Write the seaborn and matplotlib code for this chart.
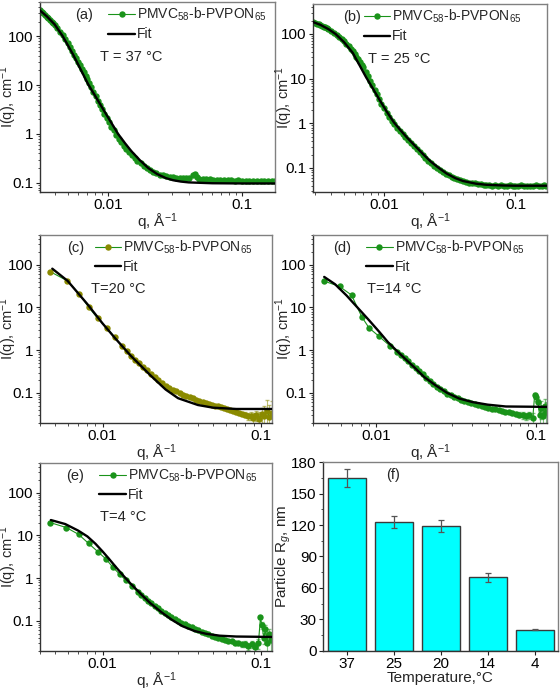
import numpy as np
import pandas as pd
import matplotlib
matplotlib.use("Agg")
import matplotlib.pyplot as plt
import matplotlib.ticker as mticker
import seaborn as sns

# ---- panel (a) T = 37 C ----
q_a = [0.0031, 0.0032, 0.0033, 0.0034, 0.0035, 0.0036, 0.0037, 0.0038, 0.0039, 0.0040,
       0.0042, 0.0044, 0.0046, 0.0048, 0.0050, 0.0052, 0.0054, 0.0056, 0.0058, 0.0060,
       0.0062, 0.0064, 0.0066, 0.0068, 0.0070, 0.0072, 0.0075, 0.0078, 0.0081, 0.0084,
       0.0087, 0.0090, 0.0094, 0.0098, 0.0102, 0.0106, 0.0110, 0.0115, 0.0120, 0.0125,
       0.0131, 0.0137, 0.0143, 0.0150, 0.0158, 0.0166, 0.0175, 0.0185, 0.0195, 0.0206,
       0.0218, 0.0230, 0.0243, 0.0257, 0.0272, 0.0288, 0.0305, 0.0323, 0.0342, 0.0362,
       0.0383, 0.0405, 0.0428, 0.0445, 0.0460, 0.0480, 0.0510, 0.0540, 0.0575, 0.0610,
       0.0650, 0.0690, 0.0735, 0.0780, 0.0830, 0.0885, 0.0940, 0.1000, 0.1065, 0.1135,
       0.1210, 0.1290, 0.1375, 0.1465, 0.1560, 0.1660, 0.1760]
i_a = [345, 318, 292, 270, 250, 232, 214, 198, 184, 170,
       146, 124, 104, 87, 72, 60, 50, 42, 35.5, 30,
       25.5, 21.5, 18.3, 15.6, 13.2, 11.3, 9.0, 7.3, 5.9, 4.8,
       3.95, 3.3, 2.6, 2.1, 1.72, 1.42, 1.18, 0.96, 0.8, 0.68,
       0.57, 0.49, 0.43, 0.37, 0.32, 0.285, 0.255, 0.225, 0.2, 0.182,
       0.168, 0.157, 0.148, 0.142, 0.137, 0.133, 0.13, 0.128, 0.126, 0.127,
       0.125, 0.128, 0.142, 0.152, 0.132, 0.122, 0.12, 0.118, 0.117, 0.116,
       0.114, 0.115, 0.113, 0.112, 0.113, 0.111, 0.112, 0.11, 0.111, 0.109,
       0.11, 0.108, 0.109, 0.107, 0.108, 0.107, 0.108]
fq_a = [0.0031, 0.0035, 0.0040, 0.0046, 0.0055, 0.0065, 0.0071, 0.0080, 0.0090, 0.0100,
        0.0110, 0.0119, 0.0135, 0.0150, 0.0173, 0.0200, 0.0232, 0.0270, 0.0306, 0.0350,
        0.0400, 0.0600, 0.1000, 0.1800]
fi_a = [340, 255, 175, 100, 42, 17, 10.5, 6.1, 3.57, 2.2,
        1.43, 1.0, 0.63, 0.44, 0.29, 0.2, 0.152, 0.125, 0.113, 0.106,
        0.102, 0.098, 0.097, 0.097]

# ---- panel (b) T = 25 C ----
q_b = [0.0029, 0.0030, 0.0031, 0.0032, 0.0033, 0.0034, 0.0035, 0.0036, 0.0037, 0.0038,
       0.0040, 0.0042, 0.0044, 0.0046, 0.0048, 0.0050, 0.0052, 0.0054, 0.0056, 0.0058,
       0.0060, 0.0062, 0.0064, 0.0066, 0.0068, 0.0070, 0.0073, 0.0076, 0.0079, 0.0082,
       0.0085, 0.0088, 0.0092, 0.0096, 0.0100, 0.0105, 0.0110, 0.0115, 0.0120, 0.0126,
       0.0132, 0.0139, 0.0146, 0.0153, 0.0161, 0.0169, 0.0178, 0.0187, 0.0197, 0.0207,
       0.0218, 0.0229, 0.0241, 0.0254, 0.0267, 0.0281, 0.0296, 0.0311, 0.0327, 0.0344,
       0.0362, 0.0381, 0.0401, 0.0422, 0.0444, 0.0467, 0.0491, 0.0517, 0.0544, 0.0572,
       0.0602, 0.0633, 0.0666, 0.0701, 0.0737, 0.0776, 0.0816, 0.0859, 0.0903, 0.0950,
       0.1000, 0.1052, 0.1107, 0.1164, 0.1225, 0.1289, 0.1356, 0.1427, 0.1501, 0.1579,
       0.1661, 0.1720]
i_b = [182, 176, 170, 164, 158, 152, 146, 140, 134, 128,
       116, 106, 96, 87, 78, 69, 61, 54, 47, 41,
       36, 31, 27, 23.5, 20.5, 17.8, 14.2, 11.2, 8.9, 7.1,
       5.7, 4.6, 3.5, 2.75, 2.2, 1.72, 1.38, 1.12, 0.94, 0.8,
       0.68, 0.57, 0.5, 0.43, 0.36, 0.31, 0.265, 0.228, 0.196, 0.17,
       0.146, 0.128, 0.113, 0.101, 0.091, 0.082, 0.075, 0.069, 0.064, 0.06,
       0.056, 0.053, 0.051, 0.049, 0.047, 0.046, 0.045, 0.044, 0.043, 0.042,
       0.041, 0.041, 0.04, 0.041, 0.039, 0.041, 0.039, 0.04, 0.041, 0.039,
       0.04, 0.039, 0.041, 0.039, 0.04, 0.04, 0.039, 0.041, 0.04, 0.04,
       0.041, 0.04]
fq_b = [0.0029, 0.0033, 0.0038, 0.0043, 0.0050, 0.0058, 0.0066, 0.0073, 0.0082, 0.0092,
        0.0105, 0.0119, 0.0135, 0.0150, 0.0175, 0.0200, 0.0228, 0.0257, 0.0300, 0.0350,
        0.0400, 0.0500, 0.0600, 0.0800, 0.1000, 0.1750]
fi_b = [185, 160, 128, 100, 65, 38, 19, 11, 6.2, 3.5,
        1.85, 1.06, 0.68, 0.48, 0.3, 0.2, 0.138, 0.104, 0.075, 0.059,
        0.051, 0.0445, 0.042, 0.0405, 0.04, 0.04]

# ---- panel (c) T = 20 C ----
q_c = [0.00467, 0.00596, 0.00708, 0.00818, 0.00931, 0.0106, 0.0119, 0.0133, 0.0143, 0.0152,
       0.0161, 0.0170, 0.0180, 0.0191, 0.0202, 0.0213, 0.0225, 0.0238, 0.0251, 0.0264,
       0.0278, 0.0292, 0.0307, 0.0322, 0.0338, 0.0355, 0.0372, 0.0390, 0.0409, 0.0428,
       0.0448, 0.0469, 0.0491, 0.0514, 0.0538, 0.0562, 0.0588, 0.0614, 0.0641, 0.0670,
       0.0699, 0.0730, 0.0761, 0.0794, 0.0828, 0.0862, 0.0898, 0.0935, 0.0973, 0.1012,
       0.1052, 0.1093, 0.1135, 0.1178]
i_c = [68.7, 42.4, 21.2, 10.0, 5.55, 3.3, 2.0, 1.24, 0.95, 0.75,
       0.6, 0.49, 0.41, 0.34, 0.28, 0.235, 0.2, 0.17, 0.148, 0.132,
       0.118, 0.108, 0.099, 0.091, 0.085, 0.079, 0.074, 0.069, 0.065, 0.061,
       0.058, 0.055, 0.052, 0.05, 0.048, 0.046, 0.044, 0.042, 0.04, 0.037,
       0.035, 0.033, 0.032, 0.031, 0.028, 0.029, 0.026, 0.03, 0.025, 0.032,
       0.028, 0.038, 0.027, 0.033]
e_c = [0, 0, 0, 0, 0, 0, 0, 0, 0, 0,
       0, 0, 0, 0, 0, 0, 0, 0, 0, 0,
       0, 0, 0, 0, 0, 0, 0, 0, 0, 0,
       0, 0, 0, 0, 0, 0, 0, 0, 0, 0.002,
       0.003, 0.003, 0.004, 0.004, 0.005, 0.006, 0.007, 0.008, 0.01, 0.012,
       0.02, 0.03, 0.025, 0.03]
fq_c = [0.0048, 0.0060, 0.0080, 0.0100, 0.0120, 0.0150, 0.0200, 0.0250, 0.0300, 0.0400,
        0.0500, 0.0700, 0.1200]
fi_c = [81, 42, 12, 4.2, 1.9, 0.75, 0.26, 0.12, 0.075, 0.052,
        0.045, 0.042, 0.042]

# ---- panel (d) T = 14 C ----
q_d = [0.00466, 0.00587, 0.00698, 0.0081, 0.0090, 0.0104, 0.0121, 0.0135, 0.0143, 0.0151,
       0.0159, 0.0167, 0.0176, 0.0185, 0.0195, 0.0205, 0.0216, 0.0227, 0.0239, 0.0251,
       0.0264, 0.0278, 0.0292, 0.0307, 0.0323, 0.0340, 0.0357, 0.0375, 0.0394, 0.0414,
       0.0435, 0.0457, 0.0480, 0.0504, 0.0530, 0.0557, 0.0585, 0.0615, 0.0646, 0.0679,
       0.0713, 0.0749, 0.0787, 0.0827, 0.0869, 0.0913, 0.0959, 0.0985, 0.1007, 0.1035,
       0.1058, 0.1087, 0.1111, 0.1142, 0.1167]
i_d = [42, 31, 19.5, 6.0, 3.3, 2.1, 1.28, 0.9, 0.78, 0.66,
       0.55, 0.46, 0.38, 0.32, 0.27, 0.225, 0.19, 0.163, 0.14, 0.122,
       0.108, 0.096, 0.088, 0.08, 0.074, 0.069, 0.065, 0.061, 0.058, 0.055,
       0.052, 0.05, 0.047, 0.045, 0.043, 0.041, 0.039, 0.038, 0.036, 0.035,
       0.034, 0.032, 0.031, 0.03, 0.028, 0.03, 0.026, 0.088, 0.08, 0.06,
       0.03, 0.045, 0.028, 0.05, 0.035]
e_d = [0, 0, 0, 0, 0, 0, 0, 0, 0, 0,
       0, 0, 0, 0, 0, 0, 0, 0, 0, 0,
       0, 0, 0, 0, 0, 0, 0, 0, 0, 0,
       0, 0, 0, 0, 0, 0, 0, 0, 0, 0.002,
       0.003, 0.003, 0.004, 0.005, 0.005, 0.006, 0.008, 0.01, 0.015, 0.012,
       0.012, 0.02, 0.015, 0.02, 0.025]
fq_d = [0.0047, 0.0055, 0.0065, 0.0076, 0.0090, 0.0105, 0.0118, 0.0133, 0.0150, 0.0175,
        0.0200, 0.0235, 0.0278, 0.0330, 0.0400, 0.0500, 0.0650, 0.1200]
fi_d = [52, 35, 19, 10, 5.0, 2.6, 1.55, 1.0, 0.65, 0.38,
        0.233, 0.151, 0.1, 0.074, 0.061, 0.053, 0.048, 0.047]

# ---- panel (e) T = 4 C ----
q_e = [0.00467, 0.0059, 0.00704, 0.00815, 0.0093, 0.0105, 0.0116, 0.0128, 0.0140, 0.0153,
       0.0167, 0.0175, 0.0184, 0.0193, 0.0203, 0.0213, 0.0224, 0.0235, 0.0247, 0.0259,
       0.0272, 0.0286, 0.0300, 0.0315, 0.0331, 0.0348, 0.0365, 0.0383, 0.0402, 0.0422,
       0.0443, 0.0465, 0.0488, 0.0513, 0.0538, 0.0565, 0.0593, 0.0623, 0.0654, 0.0687,
       0.0721, 0.0757, 0.0795, 0.0835, 0.0877, 0.0920, 0.0966, 0.0995, 0.1015, 0.1045,
       0.1070, 0.1100, 0.1125, 0.1160]
i_e = [20, 15.3, 10.6, 6.5, 4.2, 2.8, 1.8, 1.24, 0.89, 0.65,
       0.47, 0.41, 0.35, 0.3, 0.26, 0.225, 0.195, 0.17, 0.15, 0.135,
       0.12, 0.108, 0.098, 0.09, 0.083, 0.076, 0.07, 0.065, 0.06, 0.056,
       0.052, 0.048, 0.045, 0.042, 0.04, 0.038, 0.036, 0.034, 0.033, 0.03,
       0.031, 0.028, 0.029, 0.026, 0.028, 0.025, 0.03, 0.12, 0.08, 0.04,
       0.065, 0.03, 0.05, 0.035]
e_e = [0, 0, 0, 0, 0, 0, 0, 0, 0, 0,
       0, 0, 0, 0, 0, 0, 0, 0, 0, 0,
       0, 0, 0, 0, 0, 0, 0, 0, 0, 0,
       0, 0, 0, 0, 0, 0, 0, 0, 0, 0.002,
       0.003, 0.003, 0.004, 0.005, 0.005, 0.006, 0.008, 0.01, 0.015, 0.012,
       0.015, 0.02, 0.015, 0.02]
fq_e = [0.0047, 0.0058, 0.0070, 0.0080, 0.0090, 0.0100, 0.0110, 0.0120, 0.0135, 0.0150,
        0.0175, 0.0200, 0.0235, 0.0275, 0.0320, 0.0380, 0.0450, 0.0550, 0.0700, 0.1200]
fi_e = [23, 18.5, 13, 9.5, 6.4, 4.2, 2.8, 1.9, 1.15, 0.75,
        0.42, 0.26, 0.16, 0.105, 0.075, 0.058, 0.05, 0.045, 0.043, 0.042]

# ---- panel (f) radius of gyration ----
temps = ['37', '25', '20', '14', '4']
rg = [165, 123, 119, 70, 20]
rg_err = [8.5, 6, 6, 4, 0.5]

legend_label = 'PMVC$_{58}$-b-PVPON$_{65}$'
green = '#1a931a'
olive = '#8a8a00'

sns.set_theme(style='ticks')
plt.rcParams['font.family'] = ['Liberation Sans', 'DejaVu Sans']
plt.rcParams['mathtext.fontset'] = 'custom'
plt.rcParams['mathtext.rm'] = 'Liberation Sans'
plt.rcParams['mathtext.it'] = 'Liberation Sans:italic'
plt.rcParams['mathtext.bf'] = 'Liberation Sans:bold'
plt.rcParams['axes.unicode_minus'] = False


def style_axes(ax):
    for side in ['left', 'bottom']:
        ax.spines[side].set_color('#333333')
    for side in ['top', 'right']:
        ax.spines[side].set_color('#808080')
    for sp in ax.spines.values():
        sp.set_linewidth(1.0)
    ax.tick_params(which='major', direction='out', length=3, width=0.8,
                   labelsize=11, pad=1.5, colors='#222222', labelcolor='black')
    ax.tick_params(which='minor', direction='out', length=1.8, width=0.6,
                   colors='#333333')


def fmt(v, pos):
    return '%g' % v


def saxs_panel(ax, q, i, fq, fi, err, xlim, ylim, tag, temp, tag_x, leg_x, temp_x,
               ylab_x, mcolor=green):
    df = pd.DataFrame({'q': q, 'I': i})
    fit = pd.DataFrame({'q': fq, 'I': fi})
    ax.set_xscale('log')
    ax.set_yscale('log')
    if err is not None:
        ax.errorbar(q, i, yerr=err, fmt='none', ecolor=mcolor, alpha=0.55,
                    elinewidth=0.8, capsize=1.5, zorder=1)
    sns.lineplot(data=df, x='q', y='I', ax=ax, estimator=None, color=green,
                 linewidth=0.8, marker='o', markersize=4.6, markeredgewidth=0,
                 markerfacecolor=mcolor, label=legend_label, zorder=2)
    sns.lineplot(data=fit, x='q', y='I', ax=ax, estimator=None, color='black',
                 linewidth=1.7, label='Fit', zorder=3)
    ax.set_xlim(*xlim)
    ax.set_ylim(*ylim)
    ax.xaxis.set_major_locator(mticker.FixedLocator([0.01, 0.1]))
    ax.xaxis.set_major_formatter(mticker.FuncFormatter(fmt))
    ax.xaxis.set_minor_locator(mticker.LogLocator(base=10, subs=np.arange(2, 10)))
    ax.xaxis.set_minor_formatter(mticker.NullFormatter())
    ax.yaxis.set_major_locator(mticker.FixedLocator([0.1, 1, 10, 100]))
    ax.yaxis.set_major_formatter(mticker.FuncFormatter(fmt))
    ax.yaxis.set_minor_locator(mticker.LogLocator(base=10, subs=np.arange(2, 10)))
    ax.yaxis.set_minor_formatter(mticker.NullFormatter())
    ax.set_xlabel('q, Å$^{-1}$', fontsize=11, labelpad=0)
    ax.set_ylabel('I(q), cm$^{-1}$', fontsize=10.5)
    ax.yaxis.set_label_coords(ylab_x, 0.5)
    ax.legend(loc='upper left', bbox_to_anchor=(leg_x, 0.995), frameon=False,
              fontsize=10, handlelength=1.9, handletextpad=0.15,
              borderaxespad=0, borderpad=0.2, labelspacing=0.3)
    ax.text(tag_x, 0.93, tag, transform=ax.transAxes, fontsize=10.5,
            ha='center', va='center')
    ax.text(temp_x, 0.71, temp, transform=ax.transAxes, fontsize=10.5,
            ha='left', va='center')
    style_axes(ax)


fig = plt.figure(figsize=(5.6, 6.93), dpi=100)

ax_a = fig.add_axes([0.071, 0.723, 0.420, 0.274])
saxs_panel(ax_a, q_a, i_a, fq_a, fi_a, None, (0.0031, 0.176), (0.065, 500),
           '(a)', 'T = 37 °C', 0.19, 0.28, 0.255, -0.088)

ax_b = fig.add_axes([0.559, 0.723, 0.418, 0.271])
saxs_panel(ax_b, q_b, i_b, fq_b, fi_b, None, (0.0029, 0.174), (0.029, 465),
           '(b)', 'T = 25 °C', 0.165, 0.205, 0.235, -0.078)

ax_c = fig.add_axes([0.071, 0.390, 0.415, 0.271])
saxs_panel(ax_c, q_c, i_c, fq_c, fi_c, e_c, (0.004, 0.118), (0.02, 500),
           '(c)', 'T=20 °C', 0.155, 0.225, 0.22, -0.088, mcolor=olive)

ax_d = fig.add_axes([0.559, 0.390, 0.418, 0.271])
saxs_panel(ax_d, q_d, i_d, fq_d, fi_d, e_d, (0.004, 0.118), (0.02, 500),
           '(d)', 'T=14 °C', 0.125, 0.215, 0.23, -0.078)

ax_e = fig.add_axes([0.071, 0.061, 0.415, 0.271])
saxs_panel(ax_e, q_e, i_e, fq_e, fi_e, e_e, (0.004, 0.118), (0.02, 500),
           '(e)', 'T=4 °C', 0.15, 0.245, 0.26, -0.088)

# ---- (f) bars ----
ax_f = fig.add_axes([0.577, 0.061, 0.419, 0.272])
bar_df = pd.DataFrame({'T': temps, 'Rg': rg})
sns.barplot(data=bar_df, x='T', y='Rg', order=temps, color='#00ffff',
            saturation=1, edgecolor='#3a3a3a', linewidth=1.0, width=0.8,
            errorbar=None, ax=ax_f)
ax_f.errorbar(range(len(temps)), rg, yerr=rg_err, fmt='none', ecolor='#555555',
              elinewidth=0.9, capsize=2, capthick=0.9)
ax_f.set_xlim(-0.51, 4.49)
ax_f.set_ylim(0, 180)
ax_f.yaxis.set_major_locator(mticker.MultipleLocator(30))
ax_f.yaxis.set_minor_locator(mticker.MultipleLocator(15))
ax_f.set_xlabel('Temperature,°C', fontsize=11, labelpad=0)
ax_f.set_ylabel('Particle R$_g$, nm', fontsize=11)
ax_f.yaxis.set_label_coords(-0.128, 0.5)
ax_f.text(0.3, 0.93, '(f)', transform=ax_f.transAxes, fontsize=10.5,
          ha='center', va='center')
style_axes(ax_f)

fig.savefig('out.png', dpi=100)
